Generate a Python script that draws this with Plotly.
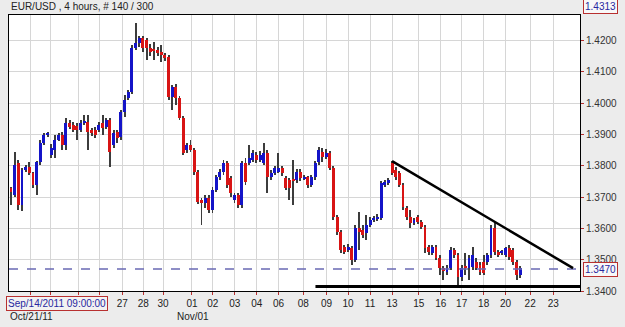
import plotly.graph_objects as go

title_text = "EUR/USD , 4 hours, # 140 / 300"

opens = [1.3729,1.3707,1.3809,1.3675,1.3787,1.3796,1.3777,1.3739,1.3812,1.3873,
         1.3899,1.3835,1.3851,1.3883,1.3899,1.3867,1.3937,1.3931,1.3928,1.3915,
         1.3937,1.3940,1.3915,1.3915,1.3915,1.3937,1.3924,1.3947,1.3867,1.3908,
         1.3892,1.3972,1.4017,1.4036,1.4177,1.4193,1.4209,1.4202,1.4177,1.4170,
         1.4170,1.4164,1.4154,1.4148,1.4020,1.4052,1.4017,1.3953,1.3851,1.3867,
         1.3851,1.3780,1.3691,1.3681,1.3697,1.3659,1.3723,1.3764,1.3780,1.3809,
         1.3761,1.3691,1.3707,1.3675,1.3809,1.3809,1.3819,1.3835,1.3819,1.3809,
         1.3841,1.3764,1.3777,1.3780,1.3793,1.3761,1.3755,1.3755,1.3755,1.3780,
         1.3761,1.3764,1.3739,1.3764,1.3812,1.3844,1.3828,1.3841,1.3793,1.3637,
         1.3589,1.3541,1.3531,1.3538,1.3499,1.3602,1.3595,1.3586,1.3611,1.3627,
         1.3630,1.3634,1.3739,1.3745,1.3809,1.3787,1.3777,1.3739,1.3665,1.3637,
         1.3618,1.3637,1.3621,1.3605,1.3541,1.3522,1.3541,1.3506,1.3474,1.3461,
         1.3474,1.3531,1.3515,1.3445,1.3480,1.3474,1.3477,1.3493,1.3483,1.3493,
         1.3493,1.3515,1.3602,1.3525,1.3522,1.3515,1.3538,1.3531,1.3493,1.3451]
highs = [1.3732,1.3844,1.3819,1.3793,1.3803,1.3812,1.3780,1.3815,1.3883,1.3905,
         1.3908,1.3870,1.3899,1.3905,1.3908,1.3953,1.3947,1.3940,1.3937,1.3947,
         1.3963,1.3963,1.3921,1.3924,1.3940,1.3963,1.3953,1.3953,1.3915,1.3915,
         1.3979,1.4026,1.4042,1.4186,1.4257,1.4215,1.4215,1.4209,1.4190,1.4196,
         1.4180,1.4186,1.4161,1.4154,1.4058,1.4062,1.4023,1.3960,1.3873,1.3883,
         1.3857,1.3787,1.3697,1.3707,1.3707,1.3733,1.3771,1.3790,1.3819,1.3815,
         1.3768,1.3713,1.3713,1.3815,1.3825,1.3867,1.3851,1.3844,1.3847,1.3873,
         1.3851,1.3787,1.3800,1.3841,1.3800,1.3768,1.3761,1.3819,1.3790,1.3790,
         1.3771,1.3768,1.3771,1.3815,1.3860,1.3857,1.3854,1.3847,1.3800,1.3643,
         1.3595,1.3547,1.3550,1.3544,1.3611,1.3653,1.3611,1.3643,1.3637,1.3640,
         1.3646,1.3752,1.3755,1.3761,1.3815,1.3796,1.3784,1.3745,1.3672,1.3659,
         1.3634,1.3643,1.3627,1.3611,1.3547,1.3547,1.3547,1.3515,1.3480,1.3483,
         1.3541,1.3538,1.3522,1.3483,1.3522,1.3515,1.3541,1.3506,1.3493,1.3515,
         1.3522,1.3611,1.3621,1.3531,1.3531,1.3541,1.3547,1.3538,1.3499,1.3480]
lows = [1.3675,1.3700,1.3659,1.3655,1.3780,1.3771,1.3729,1.3707,1.3803,1.3867,
        1.3892,1.3825,1.3825,1.3880,1.3851,1.3851,1.3918,1.3908,1.3883,1.3908,
        1.3930,1.3851,1.3895,1.3889,1.3908,1.3899,1.3918,1.3796,1.3857,1.3873,
        1.3883,1.3956,1.4010,1.4030,1.4170,1.4180,1.4164,1.4138,1.4150,1.4138,
        1.4150,1.4132,1.4135,1.4010,1.3979,1.3995,1.3945,1.3835,1.3841,1.3844,
        1.3771,1.3678,1.3611,1.3665,1.3649,1.3649,1.3717,1.3755,1.3771,1.3729,
        1.3700,1.3681,1.3665,1.3665,1.3739,1.3803,1.3812,1.3809,1.3812,1.3803,
        1.3713,1.3755,1.3771,1.3777,1.3768,1.3723,1.3691,1.3675,1.3745,1.3752,
        1.3755,1.3729,1.3733,1.3755,1.3803,1.3812,1.3822,1.3787,1.3627,1.3579,
        1.3522,1.3518,1.3525,1.3483,1.3493,1.3531,1.3570,1.3563,1.3605,1.3621,
        1.3624,1.3627,1.3733,1.3739,1.3771,1.3755,1.3733,1.3659,1.3627,1.3602,
        1.3611,1.3615,1.3598,1.3522,1.3515,1.3515,1.3499,1.3451,1.3435,1.3451,
        1.3467,1.3506,1.3419,1.3432,1.3451,1.3435,1.3467,1.3467,1.3451,1.3451,
        1.3483,1.3506,1.3515,1.3509,1.3515,1.3509,1.3499,1.3483,1.3435,1.3442]
closes = [1.3717,1.3803,1.3675,1.3787,1.3796,1.3777,1.3739,1.3812,1.3873,1.3899,
          1.3902,1.3857,1.3883,1.3899,1.3867,1.3937,1.3924,1.3915,1.3915,1.3937,
          1.3944,1.3908,1.3905,1.3899,1.3931,1.3921,1.3947,1.3844,1.3905,1.3889,
          1.3972,1.4010,1.4036,1.4177,1.4193,1.4209,1.4177,1.4177,1.4164,1.4167,
          1.4161,1.4154,1.4145,1.4020,1.4052,1.4017,1.3953,1.3841,1.3867,1.3851,
          1.3780,1.3685,1.3681,1.3697,1.3659,1.3723,1.3764,1.3780,1.3809,1.3739,
          1.3713,1.3707,1.3675,1.3809,1.3749,1.3825,1.3841,1.3819,1.3835,1.3841,
          1.3764,1.3777,1.3793,1.3793,1.3777,1.3729,1.3729,1.3752,1.3780,1.3761,
          1.3764,1.3739,1.3764,1.3809,1.3851,1.3828,1.3841,1.3793,1.3637,1.3589,
          1.3531,1.3525,1.3541,1.3499,1.3602,1.3589,1.3579,1.3611,1.3627,1.3634,
          1.3637,1.3745,1.3749,1.3755,1.3777,1.3764,1.3739,1.3669,1.3637,1.3618,
          1.3627,1.3621,1.3605,1.3538,1.3525,1.3541,1.3506,1.3474,1.3464,1.3474,
          1.3531,1.3515,1.3445,1.3474,1.3474,1.3506,1.3515,1.3474,1.3461,1.3458,
          1.3515,1.3602,1.3525,1.3515,1.3525,1.3538,1.3509,1.3493,1.3451,1.3474]

# date ticks (positions in bar-index units)
tick_idx = [5.2, 10.9, 18.5, 24.2, 30.4, 36.1, 41.5, 49.4, 55.1, 61.1, 67.1, 73.0,
            79.8, 86.1, 92.0, 98.0, 104.0, 111.3, 117.3, 123.0, 129.0, 135.0, 141.7, 148.0]
tick_lbl = ["", "", "", "", "27", "28", "30", "01", "02", "03", "04", "06",
            "08", "09", "10", "11", "13", "15", "16", "17", "18", "20", "22", "23"]

price_ticks = [1.34, 1.35, 1.36, 1.37, 1.38, 1.39, 1.40, 1.41, 1.42]
last_price = 1.3470
max_price = 1.4313

trend_x = [104.0, 153.4]
trend_y = [1.3815, 1.3473]
support_x = [83.1, 156.0]
support_y = 1.3414

cursor_text = "Sep/14/2011 09:00:00"
month_labels = ["Oct/21/11", "Nov/01"]

BLUE = "#1414c8"
RED = "#d81414"

n = len(opens)
idx = list(range(n))
body_base = [min(o, c) for o, c in zip(opens, closes)]
body_h = [max(abs(c - o), 0.00032) for o, c in zip(opens, closes)]
body_col = [BLUE if c >= o else RED for o, c in zip(opens, closes)]

fig = go.Figure()
fig.add_trace(go.Bar(x=idx, y=[h - l for h, l in zip(highs, lows)], base=lows,
                     width=0.26, marker=dict(color="#3c3c3c", line=dict(width=0)),
                     hoverinfo="skip"))
fig.add_trace(go.Bar(x=idx, y=body_h, base=body_base, width=0.8,
                     marker=dict(color=body_col, line=dict(width=0)),
                     hoverinfo="skip"))

shapes = [
    dict(type="line", xref="paper", yref="y", x0=0, x1=1, y0=last_price, y1=last_price,
         line=dict(color="#6a6ab4", width=1.5, dash="dash")),
    dict(type="line", xref="x", yref="y", x0=trend_x[0], x1=trend_x[1],
         y0=trend_y[0], y1=trend_y[1], line=dict(color="black", width=2.5)),
    dict(type="line", xref="x", yref="y", x0=support_x[0], x1=support_x[1],
         y0=support_y, y1=support_y, line=dict(color="black", width=3)),
]

ann_font = dict(family="Liberation Sans, Arial, sans-serif", size=10)
annotations = [
    dict(text=title_text, xref="paper", yref="paper", x=0.0, y=1.029,
         xanchor="left", yanchor="middle", showarrow=False,
         font=dict(ann_font, color="#222222")),
    dict(text=cursor_text, xref="paper", yref="paper", x=-0.0052, y=-0.0435,
         xanchor="left", yanchor="middle", showarrow=False,
         font=dict(ann_font, color="#2828a0"), bordercolor="#b83030",
         borderwidth=1, borderpad=1, bgcolor="#f2f2f2"),
    dict(text=month_labels[0], xref="paper", yref="paper", x=-0.0017, y=-0.0906,
         xanchor="left", yanchor="middle", showarrow=False,
         font=dict(ann_font, color="#222222")),
    dict(text=month_labels[1], xref="paper", yref="paper", x=0.3223, y=-0.0906,
         xanchor="center", yanchor="middle", showarrow=False,
         font=dict(ann_font, color="#222222")),
    dict(text=f"{last_price:.4f}", xref="paper", yref="y", x=1.0052, y=last_price,
         xanchor="left", yanchor="middle", showarrow=False,
         font=dict(ann_font, color="#2828a0"), bordercolor="#b83030",
         borderwidth=1, borderpad=1, bgcolor="#f8f8f8"),
    dict(text=f"{max_price:.4f}", xref="paper", yref="paper", x=1.0052, y=1.030,
         xanchor="left", yanchor="middle", showarrow=False,
         font=dict(ann_font, color="#2828a0"), bordercolor="#b83030",
         borderwidth=1, borderpad=1, bgcolor="#f8f8f8"),
]

fig.update_layout(
    width=625, height=327,
    margin=dict(l=8, r=43, t=15, b=36, pad=0),
    paper_bgcolor="#ececec", plot_bgcolor="white",
    barmode="overlay", bargap=0, showlegend=False,
    shapes=shapes, annotations=annotations,
    font=ann_font,
)
fig.update_xaxes(range=[-0.54, 155.3], tickmode="array", tickvals=tick_idx, ticktext=tick_lbl,
                 showgrid=True, gridcolor="#d6d6d6", gridwidth=1, zeroline=False,
                 ticks="outside", ticklen=3, tickcolor="#b83030",
                 showline=True, linecolor="black", linewidth=1, mirror=True,
                 tickfont=dict(size=10, color="#222222"))
fig.update_yaxes(side="right", range=[1.3400, 1.4282], tickmode="array",
                 tickvals=price_ticks, ticktext=[f"{v:.4f}" for v in price_ticks],
                 showgrid=True, gridcolor="#d6d6d6", gridwidth=1, zeroline=False,
                 ticks="outside", ticklen=3, tickcolor="#b83030",
                 showline=True, linecolor="black", linewidth=1, mirror=True,
                 tickfont=dict(size=10, color="#333333"))

fig.write_html("out.html")
